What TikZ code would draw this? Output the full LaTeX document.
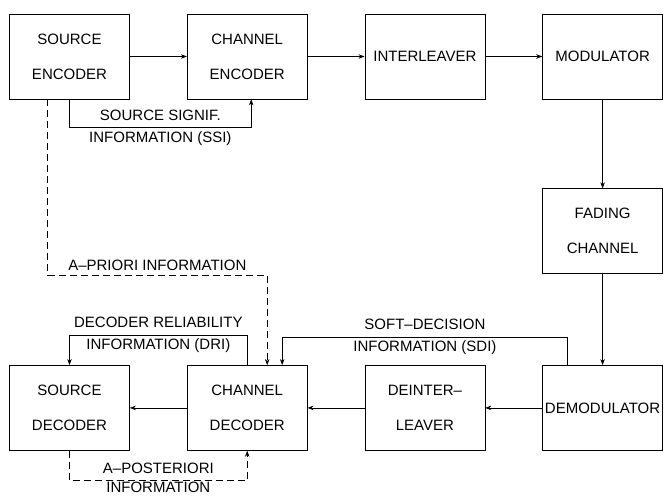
\documentclass[tikz,border=0pt]{standalone}
\usepackage{fontspec}
\setmainfont{Liberation Sans}
\usetikzlibrary{arrows.meta, positioning, calc}

\begin{document}
\begin{tikzpicture}[
    x=1pt, y=1pt,
    node distance=57pt,
    every node/.style={font=\fontsize{15}{22}\selectfont},
    block/.style={draw, rectangle, minimum width=120pt, minimum height=85pt, inner sep=1pt, align=center, line width=0.7pt, font=\fontsize{15}{35}\selectfont},
    flow/.style={-{Stealth[length=6pt,width=4.5pt]}, line width=0.6pt},
    side/.style={flow, dash pattern=on 7pt off 4pt},
    lbl/.style={align=center}
    ]
    \useasboundingbox (0,0) rectangle (670,-496);
    % transmitter
    \node[block] (senc) at (69.5,-56.5) {SOURCE\\ENCODER};
    \node[block, right=of senc] (cenc) {CHANNEL\\ENCODER};
    \node[block, right=of cenc] (intl) {INTERLEAVER};
    \node[block, right=of intl] (mod) {MODULATOR};
    % channel
    \node[block, below=89pt of mod] (fad) {FADING\\CHANNEL};
    % receiver
    \node[block, below=91pt of fad] (demod) {DEMODULATOR};
    \node[block, left=of demod] (deintl) {DEINTER--\\LEAVER};
    \node[block, left=of deintl] (cdec) {CHANNEL\\DECODER};
    \node[block, left=of cdec] (sdec) {SOURCE\\DECODER};

    \draw[flow] (senc) -- (cenc);
    \draw[flow] (cenc) -- (intl);
    \draw[flow] (intl) -- (mod);
    \draw[flow] (mod) -- (fad);
    \draw[flow] (fad) -- (demod);
    \draw[flow] (demod) -- (deintl);
    \draw[flow] (deintl) -- (cdec);
    \draw[flow] (cdec) -- (sdec);

    % side information
    \draw[flow] (senc.south) -- ++(0,-28) -| ([xshift=4pt]cenc.south)
        node[lbl, pos=0.25] {SOURCE SIGNIF.\\INFORMATION (SSI)};
    \draw[side] ([xshift=-22pt]senc.south) -- ++(0,-176) -| ([xshift=20pt]cdec.north)
        node[lbl, pos=0.25, above=1pt] {A--PRIORI INFORMATION};
    \draw[flow] (cdec.north) -- ++(0,30) -| (sdec.north)
        node[lbl, pos=0.25] {DECODER RELIABILITY\\INFORMATION (DRI)};
    \draw[flow] ([xshift=-35pt]demod.north) -- ++(0,28) -| ([xshift=35pt]cdec.north)
        node[lbl, pos=0.25] {SOFT--DECISION\\INFORMATION (SDI)};
    \draw[side] (sdec.south) -- ++(0,-30) -| (cdec.south)
        node[lbl, pos=0.25, yshift=3pt, inner sep=1pt, font=\fontsize{15}{19}\selectfont] {A--POSTERIORI\\INFORMATION};
\end{tikzpicture}
\end{document}
